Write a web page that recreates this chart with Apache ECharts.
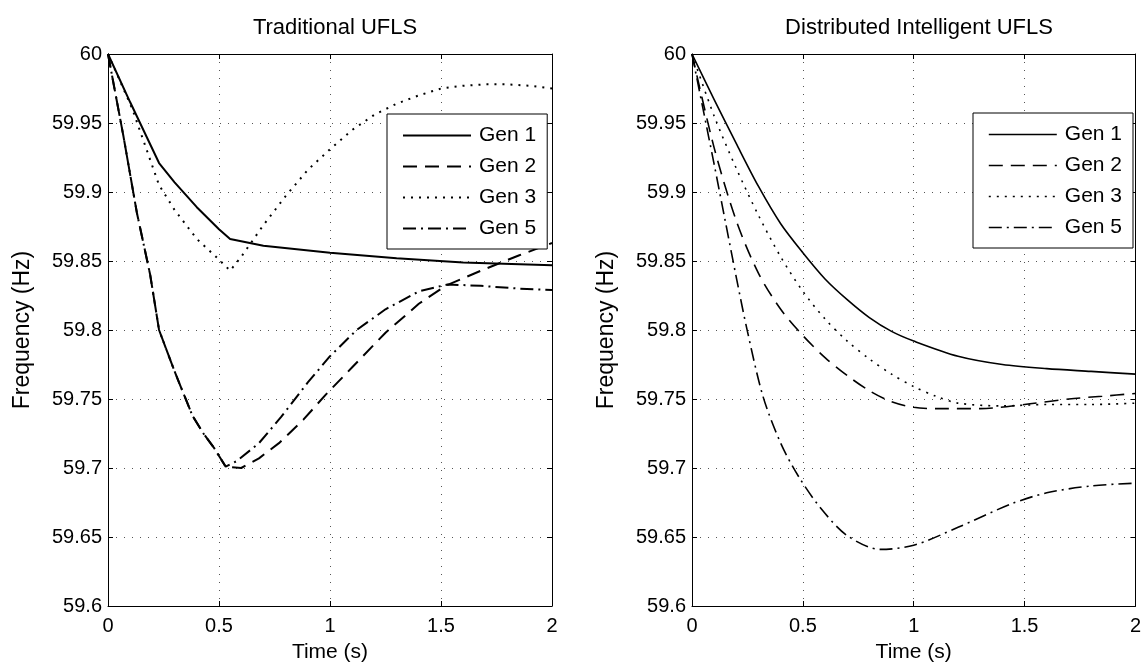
<!DOCTYPE html>
<html><head><meta charset="utf-8">
<script src="https://cdn.jsdelivr.net/npm/echarts@6/dist/echarts.min.js"></script>
<style>html,body{margin:0;padding:0;background:#fff}#c{width:1144px;height:668px}</style>
</head><body><div id="c"></div>
<script>
const xTicks = [0, 0.5, 1, 1.5, 2];
const yTicks = [59.6, 59.65, 59.7, 59.75, 59.8, 59.85, 59.9, 59.95, 60];
const genNames = ['Gen 1', 'Gen 2', 'Gen 3', 'Gen 5'];
const titles = ['Traditional UFLS', 'Distributed Intelligent UFLS'];

// Traditional UFLS
const tradT1 = [0, 0.1, 0.23, 0.3, 0.4, 0.5, 0.55, 0.7, 1.0, 1.3, 1.6, 2.0];
const tradV1 = [60, 59.965, 59.921, 59.907, 59.889, 59.873, 59.866, 59.861, 59.856, 59.852, 59.849, 59.847];
const tradT2 = [0, 0.035, 0.07, 0.13, 0.19, 0.23, 0.3, 0.38, 0.43, 0.48, 0.53, 0.6, 0.68, 0.77, 0.88, 0.98, 1.1, 1.25, 1.4, 1.52, 1.68, 1.85, 2.0];
const tradV2 = [60, 59.97, 59.94, 59.885, 59.84, 59.80, 59.770, 59.738, 59.725, 59.714, 59.701, 59.700, 59.707, 59.718, 59.735, 59.753, 59.773, 59.798, 59.819, 59.832, 59.843, 59.854, 59.863];
const tradT3 = [0, 0.05, 0.11, 0.23, 0.3, 0.4, 0.5, 0.55, 0.6, 0.7, 0.8, 0.9, 1.0, 1.1, 1.2, 1.3, 1.4, 1.5, 1.6, 1.7, 1.8, 1.9, 2.0];
const tradV3 = [60, 59.982, 59.96, 59.905, 59.887, 59.866, 59.851, 59.843, 59.853, 59.876, 59.897, 59.916, 59.931, 59.945, 59.956, 59.964, 59.970, 59.975, 59.977, 59.978, 59.978, 59.977, 59.975];
const tradT5 = [0, 0.035, 0.07, 0.13, 0.19, 0.23, 0.3, 0.38, 0.43, 0.48, 0.53, 0.58, 0.68, 0.78, 0.9, 1.0, 1.12, 1.25, 1.4, 1.53, 1.68, 1.85, 2.0];
const tradV5 = [60, 59.97, 59.94, 59.885, 59.84, 59.80, 59.770, 59.738, 59.725, 59.714, 59.701, 59.705, 59.718, 59.737, 59.762, 59.781, 59.800, 59.815, 59.828, 59.833, 59.832, 59.830, 59.829];

// Distributed Intelligent UFLS
const distT1 = [0, 0.1, 0.2, 0.3, 0.4, 0.5, 0.6, 0.7, 0.8, 0.9, 1.0, 1.2, 1.4, 1.6, 1.8, 2.0];
const distV1 = [60, 59.967, 59.935, 59.904, 59.877, 59.856, 59.837, 59.822, 59.809, 59.799, 59.792, 59.781, 59.775, 59.772, 59.770, 59.768];
const distT2 = [0, 0.1, 0.2, 0.3, 0.4, 0.5, 0.6, 0.7, 0.8, 0.9, 1.0, 1.1, 1.3, 1.5, 1.7, 1.85, 2.0];
const distV2 = [60, 59.932, 59.879, 59.841, 59.815, 59.796, 59.780, 59.767, 59.756, 59.748, 59.744, 59.743, 59.743, 59.746, 59.750, 59.752, 59.754];
const distT3 = [0, 0.1, 0.2, 0.3, 0.4, 0.5, 0.6, 0.7, 0.8, 0.9, 1.0, 1.1, 1.2, 1.4, 1.6, 1.8, 2.0];
const distV3 = [60, 59.955, 59.917, 59.883, 59.853, 59.828, 59.808, 59.792, 59.779, 59.768, 59.759, 59.752, 59.747, 59.745, 59.746, 59.746, 59.747];
const distT5 = [0, 0.05, 0.1, 0.15, 0.2, 0.25, 0.32, 0.4, 0.48, 0.58, 0.7, 0.85, 1.0, 1.2, 1.44, 1.6, 1.8, 2.0];
const distV5 = [60, 59.96, 59.92, 59.879, 59.838, 59.799, 59.752, 59.718, 59.694, 59.671, 59.651, 59.641, 59.644, 59.657, 59.674, 59.682, 59.687, 59.689];

function pairs(t, v) { return t.map((x, i) => [x, v[i]]); }

const FONT = 'Liberation Sans, Arial, Helvetica, sans-serif';
const gridPos = [{ left: 108, top: 54, width: 444, height: 557 }, { left: 692, top: 54, width: 444, height: 557 }];
const gridLine = { show: true, lineStyle: { color: '#555', type: [1, 7], width: 1 } };

const xAxes = [], yAxes = [];
[0, 1].forEach(g => {
  xAxes.push({
    gridIndex: g, type: 'value', min: xTicks[0], max: xTicks[xTicks.length - 1], interval: xTicks[1] - xTicks[0],
    position: 'bottom',
    axisLine: { onZero: false, lineStyle: { color: '#000', width: 1 } },
    axisTick: { inside: true, length: 5, lineStyle: { color: '#000' } },
    axisLabel: { color: '#000', fontSize: 20, fontFamily: FONT, margin: 10 },
    splitLine: gridLine,
    name: 'Time (s)', nameLocation: 'middle', nameGap: 36,
    nameTextStyle: { color: '#000', fontSize: 21, fontFamily: FONT }
  });
  yAxes.push({
    gridIndex: g, type: 'value', min: yTicks[0], max: yTicks[yTicks.length - 1], interval: 0.05,
    position: 'left',
    axisLine: { onZero: false, lineStyle: { color: '#000', width: 1 } },
    axisTick: { inside: true, length: 5, lineStyle: { color: '#000' } },
    axisLabel: { color: '#000', fontSize: 20, fontFamily: FONT, margin: 6,
      formatter: v => String(+v.toFixed(2)) },
    splitLine: gridLine,
    name: 'Frequency (Hz)', nameLocation: 'middle', nameGap: 74,
    nameTextStyle: { color: '#000', fontSize: 23, fontFamily: FONT }
  });
});
[0, 1].forEach(g => {
  xAxes.push({
    gridIndex: g, type: 'value', min: xTicks[0], max: xTicks[xTicks.length - 1], interval: 0.5, position: 'top',
    axisLine: { onZero: false, lineStyle: { color: '#000', width: 1 } },
    axisTick: { inside: true, length: 5, lineStyle: { color: '#000' } },
    axisLabel: { show: false }, splitLine: { show: false }
  });
  yAxes.push({
    gridIndex: g, type: 'value', min: yTicks[0], max: yTicks[yTicks.length - 1], interval: 0.05, position: 'right',
    axisLine: { onZero: false, lineStyle: { color: '#000', width: 1 } },
    axisTick: { inside: true, length: 5, lineStyle: { color: '#000' } },
    axisLabel: { show: false }, splitLine: { show: false }
  });
});

const styles = [
  { type: 'solid' },
  { type: [14, 8] },
  { type: [2, 6] },
  { type: [13, 5, 2, 5] }
];
const tradData = [pairs(tradT1, tradV1), pairs(tradT2, tradV2), pairs(tradT3, tradV3), pairs(tradT5, tradV5)];
const distData = [pairs(distT1, distV1), pairs(distT2, distV2), pairs(distT3, distV3), pairs(distT5, distV5)];
const series = [];
genNames.forEach((n, i) => {
  series.push({ name: n, type: 'line', xAxisIndex: 0, yAxisIndex: 0, data: tradData[i], symbol: 'none',
    itemStyle: { color: '#000' },
    lineStyle: { color: '#000', width: 2, type: styles[i].type }, z: 3 });
});
genNames.forEach((n, i) => {
  series.push({ name: n, type: 'line', xAxisIndex: 1, yAxisIndex: 1, data: distData[i], symbol: 'none', smooth: 0.3,
    itemStyle: { color: '#000' },
    lineStyle: { color: '#000', width: 1.6, type: styles[i].type }, z: 3 });
});

function legendAt(left, top, w) {
  return {
    orient: 'vertical', left: left, top: top, selectedMode: false,
    data: genNames.map(n => ({ name: n, lineStyle: { width: w } })),
    itemWidth: 68, itemHeight: 14, itemGap: 10,
    padding: [11, 11, 10, 15],
    itemStyle: { opacity: 0 },
    backgroundColor: '#fff', borderColor: '#000', borderWidth: 1, borderRadius: 0,
    textStyle: { color: '#000', fontSize: 21, fontFamily: FONT, padding: [0, 0, 0, 3] },
    z: 10
  };
}

const chart = echarts.init(document.getElementById('c'), null, { renderer: 'canvas' });
chart.setOption({
  backgroundColor: '#fff',
  animation: false,
  title: titles.map((t, i) => ({
    text: t, left: gridPos[i].left + gridPos[i].width / 2, top: 12, textAlign: 'center',
    textStyle: { color: '#000', fontSize: 22, fontWeight: 'normal', fontFamily: FONT }
  })),
  grid: gridPos.map(p => Object.assign({ containLabel: false }, p)),
  legend: [legendAt(387, 114, 2), legendAt(973, 113, 1.6)],
  xAxis: xAxes,
  yAxis: yAxes,
  series: series
});
</script></body></html>
